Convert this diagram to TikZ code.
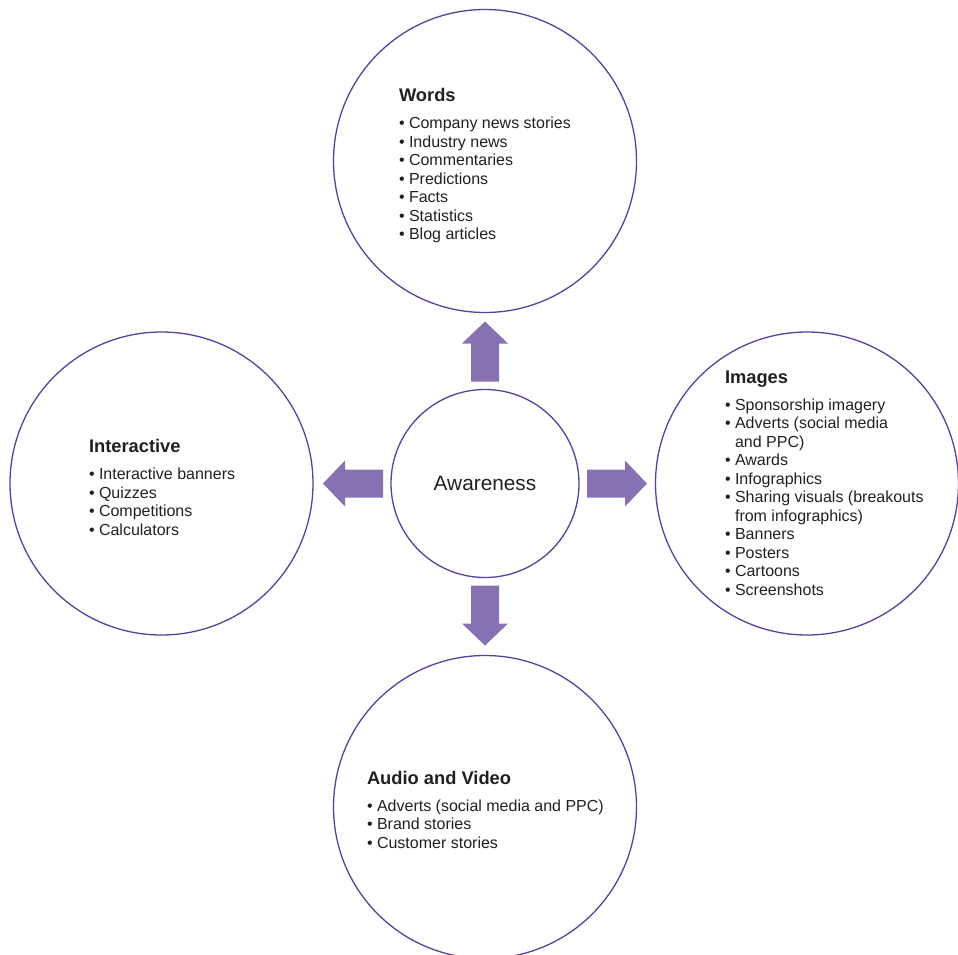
\documentclass[tikz,border=0pt]{standalone}
\usepackage{fontspec}
\setmainfont{Liberation Sans}
\usetikzlibrary{calc}

\definecolor{ringline}{HTML}{5B3F9E}
\definecolor{arrowfill}{HTML}{8671B3}
\definecolor{ink}{HTML}{231F20}

\tikzset{
  ring/.style={circle, draw=ringline, line width=1.3bp, inner sep=0pt, outer sep=0pt, minimum size=303bp},
  hub/.style={ring, minimum size=188bp, text=ink, font=\fontsize{20.8bp}{24bp}\selectfont},
  blocklist/.style={anchor=base west, inner sep=0pt, outer sep=0pt, text=ink,
    font=\fontsize{16bp}{18.5bp}\selectfont},
  blockarrow/.style={fill=arrowfill, draw=none},
}

% list helpers: bold heading, bulleted item, continuation line
\newcommand\ringhead[1]{{\fontsize{18.3bp}{18.5bp}\selectfont\bfseries #1}\\[8.5bp]}
\newcommand\ringitem[1]{\textbullet\ #1}
\newcommand\ringcont[1]{\phantom{\textbullet\ }#1}

\begin{document}
\begin{tikzpicture}[x=1bp, y=-1bp]
  \useasboundingbox (0,0) rectangle (958,955);
  \clip (0,0) rectangle (958,955);

  % circles
  \node[hub]  (aw)     at (485,483.5)   {Awareness};
  \node[ring] (words)  at (485,161)     {};
  \node[ring] (inter)  at (161.5,483.5) {};
  \node[ring] (images) at (807,483.5)   {};
  \node[ring] (av)     at (485,807)     {};

  % block arrows from the hub towards each circle
  \foreach \tgt/\ang in {words/90, images/0, av/-90, inter/180} {
    \fill[blockarrow, shift={($(aw.center)!102bp!(\tgt.center)$)}, rotate=\ang]
      (0,-14) -- (38,-14) -- (38,-23) -- (60,0) -- (38,23) -- (38,14) -- (0,14) -- cycle;
  }

  % lists
  \node[blocklist] (wordslist) at (399,101.7) {\begin{tabular}[t]{@{}l@{}}
    \ringhead{Words}
    \ringitem{Company news stories}\\
    \ringitem{Industry news}\\
    \ringitem{Commentaries}\\
    \ringitem{Predictions}\\
    \ringitem{Facts}\\
    \ringitem{Statistics}\\
    \ringitem{Blog articles}
  \end{tabular}};

  \node[blocklist] (imageslist) at (725,383.3) {\begin{tabular}[t]{@{}l@{}}
    \ringhead{Images}
    \ringitem{Sponsorship imagery}\\
    \ringitem{Adverts (social media}\\
    \ringcont{and PPC)}\\
    \ringitem{Awards}\\
    \ringitem{Infographics}\\
    \ringitem{Sharing visuals (breakouts}\\
    \ringcont{from infographics)}\\
    \ringitem{Banners}\\
    \ringitem{Posters}\\
    \ringitem{Cartoons}\\
    \ringitem{Screenshots}
  \end{tabular}};

  \node[blocklist] (interlist) at (89,452.7) {\begin{tabular}[t]{@{}l@{}}
    \ringhead{Interactive}
    \ringitem{Interactive banners}\\
    \ringitem{Quizzes}\\
    \ringitem{Competitions}\\
    \ringitem{Calculators}
  \end{tabular}};

  \node[blocklist] (avlist) at (367,784.3) {\begin{tabular}[t]{@{}l@{}}
    \ringhead{Audio and Video}
    \ringitem{Adverts (social media and PPC)}\\
    \ringitem{Brand stories}\\
    \ringitem{Customer stories}
  \end{tabular}};
\end{tikzpicture}
\end{document}
